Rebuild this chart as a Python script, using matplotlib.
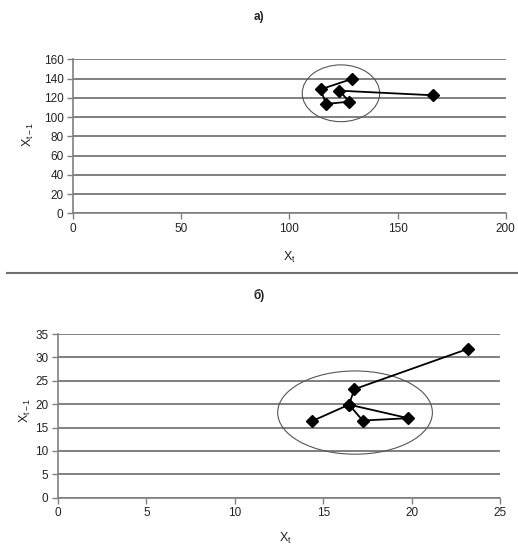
import matplotlib
matplotlib.use("Agg")
from matplotlib import pyplot as plt
from matplotlib.patches import Ellipse
from matplotlib.lines import Line2D

plt.rcParams['font.family'] = ['Liberation Sans', 'DejaVu Sans']
plt.rcParams['mathtext.fontset'] = 'custom'
plt.rcParams['mathtext.rm'] = 'Liberation Sans'
plt.rcParams['mathtext.it'] = 'Liberation Sans'

# chart a)
xa = [128.8, 114.4, 116.9, 127.7, 123.0, 166.5]
ya = [139.5, 128.8, 113.6, 116.0, 127.4, 122.6]
xa_ticks = [0, 50, 100, 150, 200]
ya_ticks = [0, 20, 40, 60, 80, 100, 120, 140, 160]

# chart б)
xb = [14.38, 16.46, 19.81, 17.23, 16.46, 16.76, 23.17]
yb = [16.4, 19.9, 17.0, 16.5, 19.9, 23.2, 31.8]
xb_ticks = [0, 5, 10, 15, 20, 25]
yb_ticks = [0, 5, 10, 15, 20, 25, 30, 35]

grid_c = "#808080"
txt_c = "#222222"

fig = plt.figure(figsize=(5.18, 5.48), dpi=100)


def style(ax, xt, yt):
    ax.set_xlim(xt[0], xt[-1])
    ax.set_ylim(yt[0], yt[-1])
    ax.set_xticks(xt)
    ax.set_yticks(yt)
    for s in ["top", "right"]:
        ax.spines[s].set_visible(False)
    for s in ["left", "bottom"]:
        ax.spines[s].set_color(grid_c)
        ax.spines[s].set_linewidth(1.2)
    ax.yaxis.grid(True, color=grid_c, linewidth=1.4)
    ax.set_axisbelow(True)
    ax.tick_params(direction="out", length=4, width=1, color=grid_c,
                   labelsize=8.5, labelcolor=txt_c, pad=3)
    ax.set_clip_on(False)


ax1 = fig.add_axes([0.1415, 0.6108, 0.8347, 0.281])
style(ax1, xa_ticks, ya_ticks)
ax1.add_patch(Ellipse((123.8, 124.7), 35.8, 59, fill=False, edgecolor="#555555", linewidth=0.8))
ax1.plot(xa, ya, color="black", linewidth=1.3, marker="D", markersize=6, clip_on=False)

ax2 = fig.add_axes([0.112, 0.0918, 0.8533, 0.2987])
style(ax2, xb_ticks, yb_ticks)
ax2.add_patch(Ellipse((16.8, 18.2), 8.75, 17.8, fill=False, edgecolor="#555555", linewidth=0.8))
ax2.plot(xb, yb, color="black", linewidth=1.3, marker="D", markersize=6, clip_on=False)

# titles and axis labels
fig.text(259 / 518, 1 - 17 / 548, "а)", ha="center", va="center", fontsize=8.5, fontweight="bold", color=txt_c)
fig.text(289 / 518, 1 - 257 / 548, r"$\mathregular{X_t}$", ha="center", va="center", fontsize=9, color=txt_c)
fig.text(28 / 518, 1 - 134 / 548, r"$\mathregular{X_{t-1}}$", ha="center", va="center", fontsize=9, rotation=90, color=txt_c)

fig.text(259 / 518, 1 - 295 / 548, "б)", ha="center", va="center", fontsize=8.5, fontweight="bold", color=txt_c)
fig.text(285 / 518, 1 - 538 / 548, r"$\mathregular{X_t}$", ha="center", va="center", fontsize=9, color=txt_c)
fig.text(25 / 518, 1 - 410 / 548, r"$\mathregular{X_{t-1}}$", ha="center", va="center", fontsize=9, rotation=90, color=txt_c)

# separator line
fig.add_artist(Line2D([7 / 518, 517 / 518], [1 - 273 / 548, 1 - 273 / 548],
                      color="#707070", linewidth=1.5, transform=fig.transFigure))

fig.savefig("out.png", dpi=100)
